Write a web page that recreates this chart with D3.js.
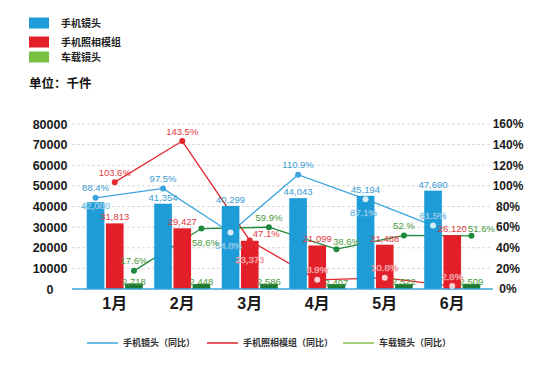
<!DOCTYPE html>
<html><head><meta charset="utf-8">
<script src="https://cdn.jsdelivr.net/npm/d3@7"></script>
<style>
body{margin:0;background:#fff;}
text{font-family:"Liberation Sans","Noto Sans CJK SC",Arial,sans-serif;}
.cjk{font-family:"Noto Sans CJK SC","Liberation Sans",sans-serif;}
</style></head>
<body>
<svg id="c" width="553" height="366"></svg>
<script>
// ---- data ----
const months = ["1月","2月","3月","4月","5月","6月"];
const seriesNames = ["手机镜头","手机照相模组","车载镜头"];
const lineNames = ["手机镜头（同比）","手机照相模组（同比）","车载镜头（同比）"];
const phoneLens = [42080, 41354, 40299, 44043, 45194, 47690];
const cameraModule = [31813, 29427, 23373, 21099, 21488, 26120];
const autoLens = [2718, 2448, 2586, 2407, 2522, 2509];
const phoneLensYoY = [88.4, 97.5, 54.8, 110.9, 87.1, 61.5];
const cameraModuleYoY = [103.6, 143.5, 47.1, 8.9, 10.8, 2.8];
const autoLensYoY = [17.6, 58.6, 59.9, 38.6, 52.0, 51.6];
const autoLensYoYText = ["17.6%","58.6%","59.9%","38.6%","52.%","51.6%"];
const leftTicks = [0,10000,20000,30000,40000,50000,60000,70000,80000];
const rightTicks = [0,20,40,60,80,100,120,140,160];

// label placement keywords (style only)
const valPlace = [["in","above","above","above","above","above"],
                  ["above","above","low","above","above","above"],
                  ["top","top","top","top","top","top"]];
const pctPlace = [["above","above","below","above","below","above"],
                  ["above","above","right","above","above","above"],
                  ["above","below","above","aboveRight","above","aboveRight"]];

const barColors = ["#1e9cd7","#e3202a","#1f7a35"];
const legendColors = ["#1e9cd7","#e3202a","#79c142"];
const lineColors = ["#3aa4dc","#e5262d","#1f8a3c"];
const legendLineColors = ["#3aa4dc","#e3202a","#8cc152"];
const labelColors = ["#3a9bd0","#e3393f","#4a9a3a"];
const insideFill = ["#dff1fb","#ffe0e0","#e6f5e6"];
const insideStroke = ["#6bb8e2","#f08a8e","#7bbf7b"];

const svg = d3.select("#c");
svg.append("rect").attr("width",553).attr("height",366).attr("fill","#fff");

const x = d3.scaleBand().domain(months).range([81,486]).paddingInner(0.17).paddingOuter(0.085);
const xs = d3.scaleBand().domain([0,1,2]).range([0,x.bandwidth()]).paddingInner(0.08);
const yL = d3.scaleLinear().domain([0,80000]).range([289,124]);
const yR = d3.scaleLinear().domain([0,160]).range([289,124]);

const bars = [phoneLens, cameraModule, autoLens];
const yoy = [phoneLensYoY, cameraModuleYoY, autoLensYoY];
const pctText = [phoneLensYoY.map(v=>v.toFixed(1)+"%"), cameraModuleYoY.map(v=>v.toFixed(1)+"%"), autoLensYoYText];

// gridlines
svg.append("g").selectAll("line").data(leftTicks.filter(d=>d>0)).join("line")
  .attr("x1",72).attr("x2",490).attr("y1",d=>yL(d)).attr("y2",d=>yL(d))
  .attr("stroke","#d9d9d9").attr("stroke-width",1).attr("stroke-dasharray","3,2");

// left axis
const ga = svg.append("g").attr("transform","translate(50,0)")
  .call(d3.axisLeft(yL).tickValues(leftTicks).tickSize(0).tickPadding(0).tickFormat(d3.format("d")));
ga.select(".domain").remove();
ga.selectAll("text").attr("text-anchor","middle").attr("font-size",12.5).attr("font-weight","bold")
  .attr("fill","#1a1a1a").style("font-family","'Liberation Sans',Arial,sans-serif");

// right axis
const gr = svg.append("g").attr("transform","translate(508,0)")
  .call(d3.axisRight(yR).tickValues(rightTicks).tickSize(0).tickPadding(0).tickFormat(d=>d+"%"));
gr.select(".domain").remove();
gr.selectAll("text").attr("text-anchor","middle").attr("font-size",12).attr("font-weight","bold")
  .attr("fill","#1a1a1a").style("font-family","'Liberation Sans',Arial,sans-serif");

// x axis
const gx = svg.append("g").attr("transform","translate(0,289)")
  .call(d3.axisBottom(x).tickSize(0).tickPadding(9));
gx.select(".domain").remove();
gx.selectAll("text").attr("font-size",16).attr("font-weight","bold").attr("fill","#1a1a1a")
  .style("font-family","'Liberation Sans','Noto Sans CJK SC',sans-serif");

const cx = (s,i) => x(months[i]) + xs(s) + xs.bandwidth()/2;

// lines (behind bars)
yoy.forEach((vals,s)=>{
  svg.append("path").datum(vals)
    .attr("fill","none").attr("stroke",lineColors[s]).attr("stroke-width",1.3)
    .attr("d", d3.line().x((d,i)=>cx(s,i)).y(d=>yR(d)));
});

// bars
bars.forEach((vals,s)=>{
  svg.append("g").selectAll("rect").data(vals).join("rect")
    .attr("x",(d,i)=>x(months[i])+xs(s)).attr("width",xs.bandwidth())
    .attr("y",d=>yL(d)).attr("height",d=>yL(0)-yL(d)).attr("fill",barColors[s]);
});

// baseline
svg.append("line").attr("x1",72).attr("x2",493).attr("y1",yL(0)).attr("y2",yL(0))
  .attr("stroke","#3aa4dc").attr("stroke-width",1.5);

// markers
const inside = (s,i) => yR(yoy[s][i]) > yL(bars[s][i]);
yoy.forEach((vals,s)=>{
  svg.append("g").selectAll("circle").data(vals).join("circle")
    .attr("cx",(d,i)=>cx(s,i)).attr("cy",d=>yR(d)).attr("r",3)
    .attr("fill",(d,i)=>inside(s,i)?"#ffffff":lineColors[s])
    .attr("fill-opacity",(d,i)=>inside(s,i)?0.8:1);
});

// value labels
const fmt = d3.format(",");
bars.forEach((vals,s)=>{
  svg.append("g").selectAll("text").data(vals).join("text")
    .attr("x",(d,i)=>cx(s,i))
    .attr("y",(d,i)=>{
      const p = valPlace[s][i], t = yL(d);
      if(p==="in") return t+7;
      if(p==="low") return t+22;
      if(p==="top") return t+1.5;
      return t-3;
    })
    .attr("text-anchor","middle").attr("font-size",9.5)
    .attr("fill",(d,i)=>{const p=valPlace[s][i]; return (p==="in"||p==="low")?insideFill[s]:labelColors[s];})
    .attr("stroke",(d,i)=>{const p=valPlace[s][i]; return (p==="in"||p==="low")?insideStroke[s]:"none";})
    .attr("stroke-width",0.4)
    .text(d=>fmt(d));
});

// pct labels
yoy.forEach((vals,s)=>{
  svg.append("g").selectAll("text").data(vals).join("text")
    .attr("x",(d,i)=>{
      const p=pctPlace[s][i];
      if(p==="right") return cx(s,i)+3;
      if(p==="aboveRight") return cx(s,i)+10;
      if(p==="below") return cx(s,i)+(s===2?4:-2);
      return cx(s,i);
    })
    .attr("y",(d,i)=>{
      const p=pctPlace[s][i], t=yR(d);
      if(p==="below") return t+17;
      if(p==="right") return t-3;
      if(p==="aboveRight") return t-4;
      return t-6.5;
    })
    .attr("text-anchor",(d,i)=>pctPlace[s][i]==="right"?"start":"middle")
    .attr("font-size",9.5)
    .attr("fill",(d,i)=>inside(s,i)?insideFill[s]:labelColors[s])
    .attr("stroke",(d,i)=>inside(s,i)?insideStroke[s]:"none")
    .attr("stroke-width",0.4)
    .text((d,i)=>pctText[s][i]);
});

// top legend
const lg = svg.append("g");
seriesNames.forEach((n,s)=>{
  const yy = [23,42,57][s];
  lg.append("rect").attr("x",29).attr("y",yy-5.5).attr("width",20).attr("height",11).attr("fill",legendColors[s]);
  lg.append("text").attr("class","cjk").attr("x",61).attr("y",yy+3.6).attr("font-size",10)
    .attr("font-weight","bold").attr("fill","#222").text(n);
});
svg.append("text").attr("class","cjk").attr("x",29).attr("y",88).attr("font-size",12.5)
  .attr("font-weight","bold").attr("fill","#111").text("单位：千件");

// bottom legend
const bl = [87,207,343];
lineNames.forEach((n,s)=>{
  svg.append("line").attr("x1",bl[s]).attr("x2",bl[s]+31).attr("y1",343).attr("y2",343)
    .attr("stroke",legendLineColors[s]).attr("stroke-width",1.5);
  svg.append("text").attr("class","cjk").attr("x",bl[s]+36).attr("y",346.3).attr("font-size",9)
    .attr("font-weight","bold").attr("fill","#333").text(n);
});
</script>
</body></html>
